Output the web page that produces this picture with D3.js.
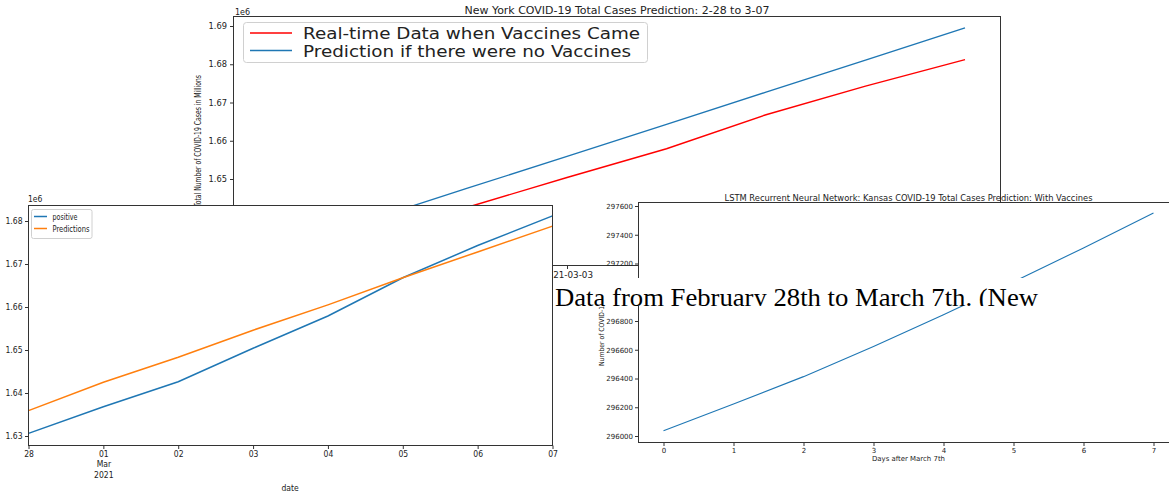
<!DOCTYPE html>
<html>
<head>
<meta charset="utf-8">
<script src="https://cdn.jsdelivr.net/npm/d3@7"></script>
<style>
  body { margin: 0; background: #fff; }
  svg { display: block; }
  .tick text { fill: #222; }
  .tick line { stroke: #333; }
</style>
</head>
<body>
<div class="collage"></div>
<script>
"use strict";

// days shared by the New York charts
const days = ["2021-02-28", "2021-03-01", "2021-03-02", "2021-03-03",
  "2021-03-04", "2021-03-05", "2021-03-06", "2021-03-07"];

// New York totals
const positive = [1630620, 1636810, 1642620, 1650400, 1657900, 1666800, 1674300, 1681200];
const predictions = [1635900, 1642500, 1648300, 1654600, 1660500, 1666800, 1672800, 1678800];
const noVaccine = [1630600, 1639200, 1647600, 1655900, 1664300, 1672700, 1681100, 1689500];

// Kansas prediction
const kansasDays = [0, 1, 2, 3, 4, 5, 6, 7];
const kansas = [296037, 296223, 296413, 296622, 296843, 297073, 297308, 297552];

const nyTicks = [1630000, 1640000, 1650000, 1660000, 1670000, 1680000, 1690000];
const posTicks = [1630000, 1640000, 1650000, 1660000, 1670000, 1680000];
const ksTicks = [296000, 296200, 296400, 296600, 296800, 297000, 297200, 297400, 297600];

const parse = d3.timeParse("%Y-%m-%d");
const dates = days.map(parse);

const W = 1169, H = 495;
const sans = "'DejaVu Sans', sans-serif";
const narrow = "'DejaVu Sans Condensed', 'Liberation Sans Narrow', sans-serif";

const svg = d3.select(".collage").append("svg")
  .attr("width", W).attr("height", H)
  .style("background", "#fff");

function frame(g, box) {
  g.append("rect")
    .attr("x", box.left).attr("y", box.top)
    .attr("width", box.right - box.left).attr("height", box.bottom - box.top)
    .attr("fill", "none").attr("stroke", "#333").attr("stroke-width", 1);
}

function face(g, box) {
  g.append("rect")
    .attr("x", box.left).attr("y", box.top)
    .attr("width", box.right - box.left).attr("height", box.bottom - box.top)
    .attr("fill", "#fff");
}

function styleAxis(g, font, size) {
  g.select(".domain").remove();
  g.selectAll(".tick text").attr("font-family", font).attr("font-size", size);
}

// ---------- New York chart (back) ----------
const ny = { left: 233.5, right: 1000.5, top: 16.5, bottom: 265.5 };
const gNY = svg.append("g");
face(gNY, ny);

const xNY = d3.scaleTime().domain([dates[0], dates[7]]).range([268.5, 965]);
const yNY = d3.scaleLinear().domain([1650000, 1690000]).range([179, 26]);

gNY.append("g")
  .attr("transform", `translate(0,${ny.bottom})`)
  .call(d3.axisBottom(xNY).tickValues(dates).tickFormat(d3.timeFormat("%Y-%m-%d"))
    .tickSize(3.5).tickPadding(3))
  .call((g) => styleAxis(g, sans, "8.8px"));

gNY.append("g")
  .attr("transform", `translate(${ny.left},0)`)
  .call(d3.axisLeft(yNY).tickValues(nyTicks).tickFormat((d) => (d / 1e6).toFixed(2))
    .tickSize(3.5).tickPadding(3))
  .call((g) => styleAxis(g, sans, "8.3px"));

const lineNY = (vals) => d3.line()
  .x((d, i) => xNY(dates[i]))
  .y((d) => yNY(d))(vals);

gNY.append("path").attr("d", lineNY(positive))
  .attr("fill", "none").attr("stroke", "#ff0000").attr("stroke-width", 1.4);
gNY.append("path").attr("d", lineNY(noVaccine))
  .attr("fill", "none").attr("stroke", "#1f77b4").attr("stroke-width", 1.4);
frame(gNY, ny);

gNY.append("text").attr("x", 617).attr("y", 14)
  .attr("text-anchor", "middle").attr("font-family", sans).attr("font-size", "10px")
  .attr("textLength", 305).attr("lengthAdjust", "spacingAndGlyphs")
  .attr("fill", "#222").text("New York COVID-19 Total Cases Prediction: 2-28 to 3-07");
gNY.append("text").attr("x", 235).attr("y", 14.5)
  .attr("font-family", sans).attr("font-size", "8px").attr("fill", "#222").text("1e6");
gNY.append("text").attr("x", 616.5).attr("y", 287)
  .attr("text-anchor", "middle").attr("font-family", sans).attr("font-size", "8.8px")
  .attr("fill", "#222").text("Date");
gNY.append("text")
  .attr("transform", `translate(200.5,141) rotate(-90)`)
  .attr("text-anchor", "middle").attr("font-family", sans).attr("font-size", "8.5px")
  .attr("textLength", 132).attr("lengthAdjust", "spacingAndGlyphs")
  .attr("fill", "#222").text("Total Number of COVID-19 Cases in Millions");

// legend
const legNY = gNY.append("g");
legNY.append("rect").attr("x", 243.5).attr("y", 22.5).attr("width", 404).attr("height", 40)
  .attr("rx", 3).attr("fill", "#fff").attr("fill-opacity", 0.8)
  .attr("stroke", "#d0d0d0");
[["Real-time Data when Vaccines Came", "#ff0000", 33, 337],
 ["Prediction if there were no Vaccines", "#1f77b4", 50.5, 328]].forEach(([label, c, y, len]) => {
  legNY.append("line").attr("x1", 250).attr("x2", 292).attr("y1", y).attr("y2", y)
    .attr("stroke", c).attr("stroke-width", 1.4);
  legNY.append("text").attr("x", 303).attr("y", y + 6)
    .attr("font-family", sans).attr("font-size", "16px")
    .attr("textLength", len).attr("lengthAdjust", "spacingAndGlyphs")
    .attr("fill", "#222").text(label);
});

// ---------- positive vs predictions chart ----------
const pv = { left: 28.5, right: 552.5, top: 205.5, bottom: 445.5 };
const gPV = svg.append("g");
face(gPV, pv);

const xPV = d3.scaleTime().domain([dates[0], dates[7]]).range([pv.left, pv.right]);
const yPV = d3.scaleLinear().domain([1630000, 1680000]).range([436, 221]);

const xAxisPV = gPV.append("g")
  .attr("transform", `translate(0,${pv.bottom})`)
  .call(d3.axisBottom(xPV).tickValues(dates).tickFormat(d3.timeFormat("%d"))
    .tickSize(3.5).tickPadding(2))
  .call((g) => styleAxis(g, narrow, "8.5px"));
xAxisPV.selectAll(".tick").filter((d, i) => i === 1).each(function () {
  const t = d3.select(this);
  ["Mar", "2021"].forEach((s, k) => {
    t.append("text").attr("y", 21.5 + k * 10.5).attr("text-anchor", "middle")
      .attr("font-family", narrow).attr("font-size", "8.5px").attr("fill", "#222").text(s);
  });
});

gPV.append("g")
  .attr("transform", `translate(${pv.left},0)`)
  .call(d3.axisLeft(yPV).tickValues(posTicks).tickFormat((d) => (d / 1e6).toFixed(2))
    .tickSize(3.5).tickPadding(2.5))
  .call((g) => styleAxis(g, narrow, "8.5px"));

const linePV = (vals) => d3.line()
  .x((d, i) => xPV(dates[i]))
  .y((d) => yPV(d))(vals);

gPV.append("path").attr("d", linePV(positive))
  .attr("fill", "none").attr("stroke", "#1f77b4").attr("stroke-width", 1.5);
gPV.append("path").attr("d", linePV(predictions))
  .attr("fill", "none").attr("stroke", "#ff7f0e").attr("stroke-width", 1.5);
frame(gPV, pv);

gPV.append("text").attr("x", 28).attr("y", 201.5)
  .attr("font-family", narrow).attr("font-size", "8.5px").attr("fill", "#222").text("1e6");
gPV.append("text").attr("x", 290).attr("y", 491)
  .attr("text-anchor", "middle").attr("font-family", narrow).attr("font-size", "8.5px")
  .attr("fill", "#222").text("date");

const legPV = gPV.append("g");
legPV.append("rect").attr("x", 31.5).attr("y", 209.5).attr("width", 60.5).attr("height", 29)
  .attr("rx", 2).attr("fill", "#fff").attr("stroke", "#d0d0d0");
[["positive", "#1f77b4", 216.5, 25], ["Predictions", "#ff7f0e", 228.5, 37]].forEach(([label, c, y, len]) => {
  legPV.append("line").attr("x1", 34).attr("x2", 47).attr("y1", y).attr("y2", y)
    .attr("stroke", c).attr("stroke-width", 1.5);
  legPV.append("text").attr("x", 52.5).attr("y", y + 3)
    .attr("font-family", narrow).attr("font-size", "8.5px")
    .attr("textLength", len).attr("lengthAdjust", "spacingAndGlyphs")
    .attr("fill", "#222").text(label);
});

// ---------- Kansas chart ----------
const ks = { left: 638.5, right: 1180, top: 202.5, bottom: 442.5 };
const gKS = svg.append("g");
face(gKS, ks);

const xKS = d3.scaleLinear().domain([0, 7]).range([663.5, 1153.5]);
const yKS = d3.scaleLinear().domain([296000, 297600]).range([436, 206]);

gKS.append("g")
  .attr("transform", `translate(0,${ks.bottom})`)
  .call(d3.axisBottom(xKS).tickValues(kansasDays).tickFormat(d3.format("d"))
    .tickSize(3.5).tickPadding(2))
  .call((g) => styleAxis(g, sans, "7px"));

gKS.append("g")
  .attr("transform", `translate(${ks.left},0)`)
  .call(d3.axisLeft(yKS).tickValues(ksTicks).tickFormat(d3.format("d"))
    .tickSize(3.5).tickPadding(2))
  .call((g) => styleAxis(g, sans, "7px"));

gKS.append("path")
  .datum(kansas)
  .attr("d", d3.line().x((d, i) => xKS(kansasDays[i])).y((d) => yKS(d)))
  .attr("fill", "none").attr("stroke", "#1f77b4").attr("stroke-width", 1.1);
frame(gKS, ks);

gKS.append("text").attr("x", 908.5).attr("y", 200.5)
  .attr("text-anchor", "middle").attr("font-family", sans).attr("font-size", "8.3px")
  .attr("textLength", 368).attr("lengthAdjust", "spacingAndGlyphs")
  .attr("fill", "#222")
  .text("LSTM Recurrent Neural Network: Kansas COVID-19 Total Cases Prediction: With Vaccines");
gKS.append("text").attr("x", 908.5).attr("y", 461)
  .attr("text-anchor", "middle").attr("font-family", sans).attr("font-size", "7px")
  .attr("textLength", 73).attr("lengthAdjust", "spacingAndGlyphs")
  .attr("fill", "#222").text("Days after March 7th");
gKS.append("text")
  .attr("transform", `translate(603.5,324) rotate(-90)`)
  .attr("text-anchor", "middle").attr("font-family", sans).attr("font-size", "7px")
  .attr("textLength", 84).attr("lengthAdjust", "spacingAndGlyphs")
  .attr("fill", "#222").text("Number of COVID-19 Cases");

// ---------- text strip on top ----------
const strip = { x: 553, y: 278, w: 489, h: 28 };
svg.append("clipPath").attr("id", "strip-clip")
  .append("rect").attr("x", strip.x).attr("y", strip.y).attr("width", strip.w).attr("height", strip.h);
const gST = svg.append("g").attr("clip-path", "url(#strip-clip)");
gST.append("rect").attr("x", strip.x).attr("y", strip.y).attr("width", strip.w).attr("height", strip.h)
  .attr("fill", "#fff");
gST.append("text").attr("x", 555).attr("y", 305.5)
  .attr("font-family", "'Liberation Serif', 'Times New Roman', serif").attr("font-size", "25px")
  .attr("textLength", 483).attr("lengthAdjust", "spacingAndGlyphs")
  .attr("fill", "#000").text("Data from February 28th to March 7th. (New");
</script>
</body>
</html>
